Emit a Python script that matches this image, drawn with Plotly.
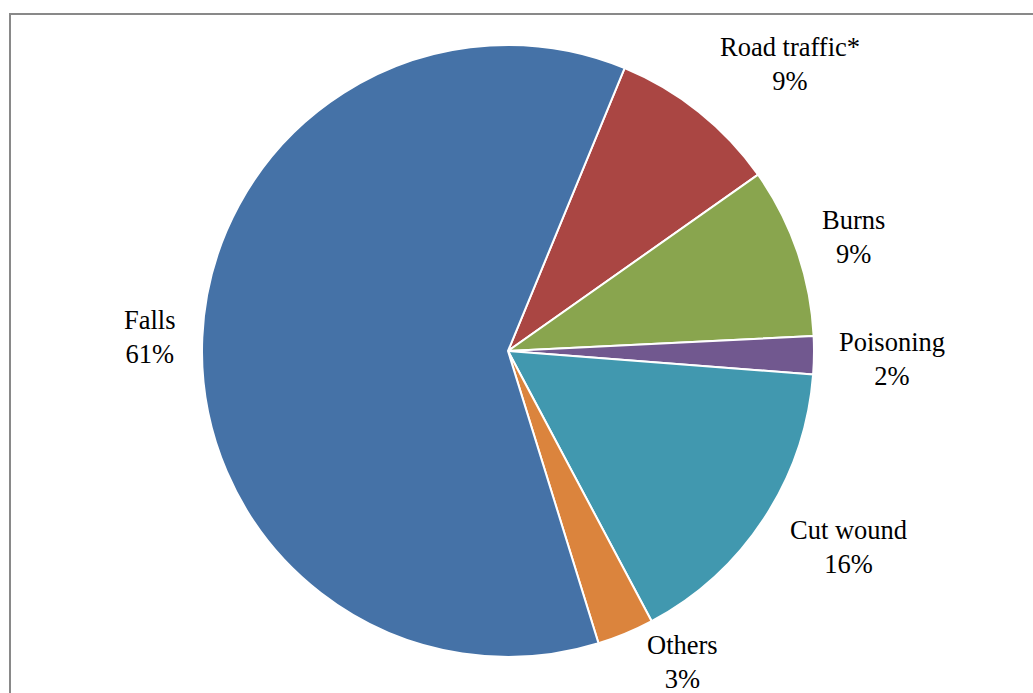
import plotly.graph_objects as go

# Injury causes, percent of cases
labels = ["Road traffic*", "Burns", "Poisoning", "Cut wound", "Others", "Falls"]
values = [9, 9, 2, 16, 3, 61]
colors = ["#AA4643", "#89A54E", "#71588F", "#4198AF", "#DB843D", "#4572A7"]

# label anchor points (pixels in a 1033x693 canvas)
label_px = {
    "Road traffic*": (790, 64),
    "Burns": (853, 237),
    "Poisoning": (892, 359),
    "Cut wound": (848, 547),
    "Others": (682, 662),
    "Falls": (150, 337),
}

W, H = 1033, 693
cx, cy, r = 508, 351, 306

fig = go.Figure(
    go.Pie(
        labels=labels,
        values=values,
        sort=False,
        direction="clockwise",
        rotation=22.4,
        marker=dict(colors=colors, line=dict(color="white", width=2)),
        textinfo="none",
        hoverinfo="label+percent",
        domain=dict(x=[(cx - r) / W, (cx + r) / W], y=[1 - (cy + r) / H, 1 - (cy - r) / H]),
        showlegend=False,
    )
)

total = sum(values)
for lab, val in zip(labels, values):
    px, py = label_px[lab]
    fig.add_annotation(
        x=px / W, y=1 - py / H, xref="paper", yref="paper",
        xanchor="center", yanchor="middle",
        text=f"{lab}<br>{round(100 * val / total)}%",
        showarrow=False, align="center",
        font=dict(family="Liberation Serif", size=26.5, color="#000000"),
    )

# chart frame
fig.add_shape(type="rect", xref="paper", yref="paper",
              x0=10 / W, x1=1.05, y0=-0.05, y1=1 - 14 / H,
              line=dict(color="#898989", width=2), fillcolor="rgba(0,0,0,0)")

fig.update_layout(
    width=W, height=H,
    margin=dict(l=0, r=0, t=0, b=0),
    paper_bgcolor="white", plot_bgcolor="white",
)

fig.write_html("out.html")
